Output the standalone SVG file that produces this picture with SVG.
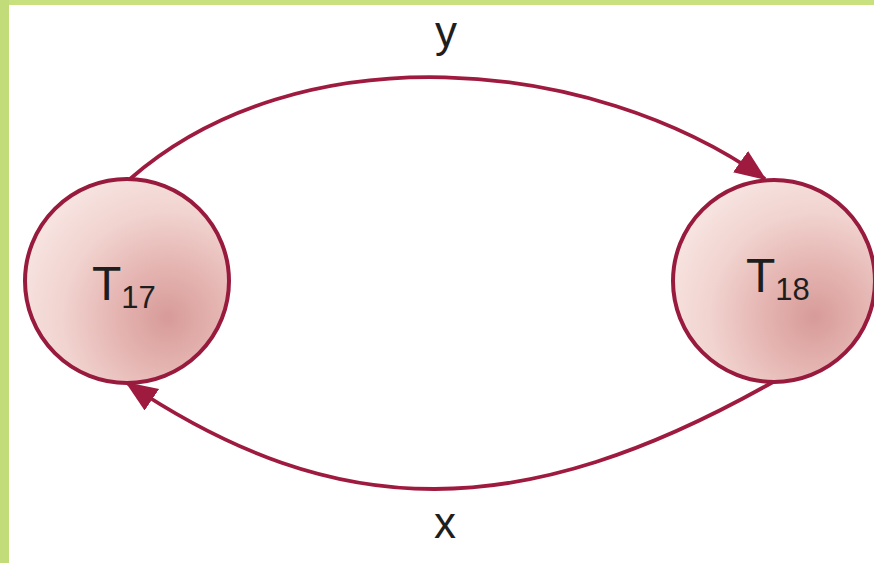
<svg xmlns="http://www.w3.org/2000/svg" width="874" height="563" viewBox="0 0 874 563">
<style>
.node{stroke:#981a3d;stroke-width:4;fill:url(#ball)}
.edge{fill:none;stroke:#9e1b3f;stroke-width:3.8;stroke-linecap:butt}
.lbl{font-family:"Liberation Sans",Arial,sans-serif;fill:#1e1e1e}
</style>
<defs>
<radialGradient id="ball" cx="0.7" cy="0.68" r="0.8">
<stop offset="0" stop-color="#d79b98"/>
<stop offset="0.3" stop-color="#e4b3b0"/>
<stop offset="0.65" stop-color="#f1d3cf"/>
<stop offset="1" stop-color="#f8e7e4"/>
</radialGradient>
<marker id="arrow" markerUnits="userSpaceOnUse" markerWidth="34" markerHeight="28" refX="30" refY="13" orient="auto">
<path d="M0,0 L32,13 L0,26 Z" fill="#9e1b3f"/>
</marker>
</defs>
<rect x="0" y="0" width="874" height="563" fill="#ffffff"/>
<rect x="0" y="0" width="874" height="5" fill="#c9e07f"/>
<rect x="0" y="0" width="9" height="563" fill="#c3dc7a"/>
<g id="connectors">
<path class="edge" d="M130,179 C298,32 590,55 765,179" marker-end="url(#arrow)"/>
<path class="edge" d="M773,382 C522,524 338,525 127,383" marker-end="url(#arrow)"/>
</g>
<g id="T17">
<circle class="node" cx="127" cy="281" r="102"/>
<text class="lbl" x="92" y="300" font-size="48">T<tspan font-size="31" dy="8">17</tspan></text>
</g>
<g id="T18">
<circle class="node" cx="774" cy="281" r="101"/>
<text class="lbl" x="746" y="292" font-size="48">T<tspan font-size="31" dy="8">18</tspan></text>
</g>
<g id="label-y">
<text class="lbl" x="446" y="47" font-size="44" text-anchor="middle">y</text>
</g>
<g id="label-x">
<text class="lbl" x="445" y="538" font-size="44" text-anchor="middle">x</text>
</g>
</svg>
